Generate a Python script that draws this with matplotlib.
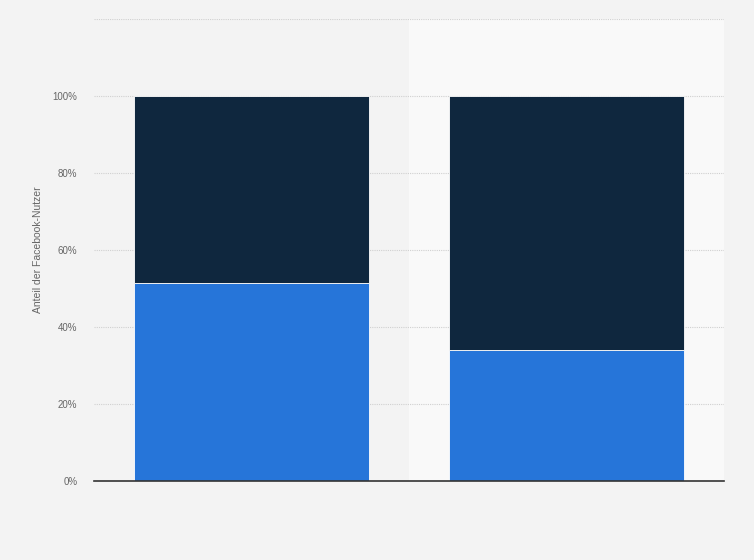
import matplotlib
matplotlib.use("Agg")
import matplotlib.pyplot as plt
import numpy as np

plt.rcParams["font.family"] = ["Liberation Sans", "DejaVu Sans"]

categories = ["A", "B"]
share_1 = [51.3, 33.9]
share_2 = [48.7, 66.1]
yticks = [0, 20, 40, 60, 80, 100, 120]
ytick_labels = ["0%", "20%", "40%", "60%", "80%", "100%", ""]

fig = plt.figure(figsize=(7.54, 5.6), dpi=100, facecolor="#f3f3f3")
ax = fig.add_axes([94/754, 1-481/560, 630/754, 462/560])
ax.set_facecolor("#f3f3f3")

x = np.arange(len(categories))
ax.set_xlim(-0.5, len(categories) - 0.5)
ax.set_ylim(0, 120)

# alternating background bands
for i in x:
    if i % 2 == 1:
        ax.axvspan(i - 0.5, i + 0.5, color="#f9f9f9", zorder=0, lw=0)

ax.set_yticks(yticks)
ax.set_yticklabels(ytick_labels)
ax.grid(axis="y", linestyle=(0, (1, 1)), color="#d0d0d0", linewidth=0.8, zorder=1)
ax.set_axisbelow(True)

w = 0.746
ax.bar(x, share_1, width=w, color="#2675d9", edgecolor="#ffffff", linewidth=0.6, zorder=2)
ax.bar(x, share_2, width=w, bottom=share_1, color="#0f273e", edgecolor="#ffffff", linewidth=0.6, zorder=2)

for s in ["top", "right", "left"]:
    ax.spines[s].set_visible(False)
ax.spines["bottom"].set_color("#333333")
ax.spines["bottom"].set_linewidth(1.2)
ax.spines["bottom"].set_zorder(3)

ax.set_xticks([])
ax.tick_params(axis="y", length=0, labelsize=7, labelcolor="#666666", pad=12)
ax.set_ylabel("Anteil der Facebook-Nutzer", fontsize=7.5, color="#666666", labelpad=7)

fig.savefig("out.png", dpi=100, facecolor=fig.get_facecolor())
